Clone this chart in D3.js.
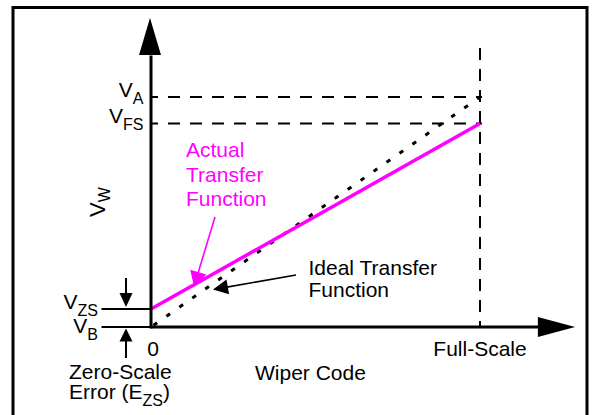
<!DOCTYPE html>
<html>
<head>
<meta charset="utf-8">
<script src="https://cdn.jsdelivr.net/npm/d3@7"></script>
<style>
  html, body { margin: 0; padding: 0; background: #fff; }
  svg { display: block; }
  text { font-family: "Liberation Sans", Arial, Helvetica, sans-serif; }
</style>
</head>
<body>
<div id="chart"></div>
<script>
// ---- data ----
const codes = [0, 1];                       // wiper code: 0 .. full-scale
const codeLabels = ["0", "Full-Scale"];
const idealValues = [0.0, 1.0];             // V_B -> V_A
const actualValues = [0.078, 0.885];        // V_ZS -> V_FS
const levelMain = ["V", "V", "V", "V"];
const levelSub = ["A", "FS", "ZS", "B"];
const levelValues = [1.0, 0.885, 0.078, 0.0];
const xAxisTitle = "Wiper Code";
const yAxisTitle = ["V", "W"];
const actualLabel = ["Actual", "Transfer", "Function"];
const idealLabel = ["Ideal Transfer", "Function"];
const zsLabel = ["Zero-Scale", "Error (E", "ZS", ")"];

const W = 596, H = 415;
const svg = d3.select("#chart").append("svg").attr("width", W).attr("height", H);

const x = d3.scaleLinear().domain([0, 1]).range([151, 480]);
const y = d3.scaleLinear().domain([0, 1]).range([327, 97]);

const black = "#000", magenta = "#ff00ff";
const FS = 21, SUB = 15;

// frame
svg.append("rect").attr("x", 13).attr("y", 7.5).attr("width", 574).attr("height", 420)
  .attr("fill", "none").attr("stroke", black).attr("stroke-width", 3);

function arrow(g, x1, y1, x2, y2, len, wid, color, lw) {
  const dx = x2 - x1, dy = y2 - y1, d = Math.hypot(dx, dy);
  const ux = dx / d, uy = dy / d;
  const bx = x2 - ux * len, by = y2 - uy * len;
  g.append("line").attr("x1", x1).attr("y1", y1).attr("x2", bx + ux * 1).attr("y2", by + uy * 1)
    .attr("stroke", color).attr("stroke-width", lw);
  const px = -uy * wid / 2, py = ux * wid / 2;
  g.append("path").attr("d", `M${x2},${y2}L${bx + px},${by + py}L${bx - px},${by - py}Z`)
    .attr("fill", color);
}

// dashed reference lines for V_A and V_FS
[0, 1].forEach(i => {
  svg.append("line")
    .attr("x1", x(0)).attr("x2", x(1.006))
    .attr("y1", y(levelValues[i])).attr("y2", y(levelValues[i]))
    .attr("stroke", black).attr("stroke-width", 2)
    .attr("stroke-dasharray", "12,10").attr("stroke-dashoffset", 5);
});
// full-scale vertical dashed line
svg.append("line")
  .attr("x1", x(codes[1])).attr("x2", x(codes[1]))
  .attr("y1", y(1.213)).attr("y2", y(0))
  .attr("stroke", black).attr("stroke-width", 2)
  .attr("stroke-dasharray", "12,9");

// ideal transfer function (dotted)
const line = d3.line().x(d => x(d[0])).y(d => y(d[1]));
svg.append("path")
  .attr("d", line(codes.map((c, i) => [c, idealValues[i]])))
  .attr("fill", "none").attr("stroke", black).attr("stroke-width", 3)
  .attr("stroke-dasharray", "4.5,11.3").attr("stroke-dashoffset", -3);

// actual transfer function
svg.append("path")
  .attr("d", line(codes.map((c, i) => [c, actualValues[i]])))
  .attr("fill", "none").attr("stroke", magenta).attr("stroke-width", 3.5);

// axes with arrowheads
svg.append("line").attr("x1", x(0)).attr("x2", x(1.18)).attr("y1", y(0)).attr("y2", y(0))
  .attr("stroke", black).attr("stroke-width", 3);
svg.append("path").attr("d", `M${x(1.289)},${y(0)}L${x(1.176)},${y(0) - 10}L${x(1.176)},${y(0) + 10}Z`)
  .attr("fill", black);
svg.append("line").attr("x1", x(0)).attr("x2", x(0)).attr("y1", y(0) + 1.5).attr("y2", y(1.18))
  .attr("stroke", black).attr("stroke-width", 3);
svg.append("path").attr("d", `M${x(0) - 1},${y(1.343)}L${x(0) - 12},${y(1.183)}L${x(0) + 10},${y(1.183)}Z`)
  .attr("fill", black);

// level labels
levelValues.forEach((v, i) => {
  const low = i >= 2;
  const t = svg.append("text")
    .attr("x", low ? 98 : 143.5)
    .attr("y", y(v) + (i === 3 ? 5.5 : 0))
    .attr("text-anchor", "end")
    .attr("font-size", FS).attr("fill", black);
  t.append("tspan").text(levelMain[i]);
  t.append("tspan").attr("font-size", SUB + 1).attr("dy", 7).text(levelSub[i]);
  if (low) {
    svg.append("line").attr("x1", 101.5).attr("x2", x(0)).attr("y1", y(v)).attr("y2", y(v))
      .attr("stroke", black).attr("stroke-width", 2);
  }
});

// zero-scale error dimension arrows
arrow(svg, 126, 278, 126, y(actualValues[0]) - 2, 14, 13, black, 2);
arrow(svg, 126, 358, 126, y(0) + 1.5, 13, 13, black, 2);

// x tick labels
codes.forEach((c, i) => {
  svg.append("text").attr("x", x(c) + (i === 0 ? 2 : 0)).attr("y", 355.5)
    .attr("text-anchor", "middle").attr("font-size", FS).attr("fill", black)
    .text(codeLabels[i]);
});

// axis titles
svg.append("text").attr("x", 255).attr("y", 380).attr("font-size", FS).attr("fill", black)
  .text(xAxisTitle);
const yt = svg.append("text").attr("transform", "translate(105,217) rotate(-90)")
  .attr("font-size", FS + 1).attr("fill", black);
yt.append("tspan").text(yAxisTitle[0]);
yt.append("tspan").attr("font-size", SUB + 1).attr("dy", 4.5).text(yAxisTitle[1]);

// zero-scale error label
svg.append("text").attr("x", 69).attr("y", 378.5).attr("font-size", FS).attr("fill", black)
  .text(zsLabel[0]);
const ez = svg.append("text").attr("x", 69).attr("y", 398.5).attr("font-size", FS).attr("fill", black);
ez.append("tspan").text(zsLabel[1]);
ez.append("tspan").attr("font-size", SUB + 1).attr("dy", 7).text(zsLabel[2]);
ez.append("tspan").attr("dy", -7).text(zsLabel[3]);

// actual label + pointer
actualLabel.forEach((s, i) => {
  svg.append("text").attr("x", 186).attr("y", 157 + i * 24.5).attr("font-size", FS)
    .attr("fill", magenta).text(s);
});
arrow(svg, 215, 217, 194, 286.5, 15, 17, magenta, 1.6);

// ideal label + pointer
idealLabel.forEach((s, i) => {
  svg.append("text").attr("x", 308.5).attr("y", 274.5 + i * 22.5).attr("font-size", FS)
    .attr("fill", black).text(s);
});
arrow(svg, 296, 275, 213, 289.5, 15, 15, black, 1.6);
</script>
</body>
</html>
